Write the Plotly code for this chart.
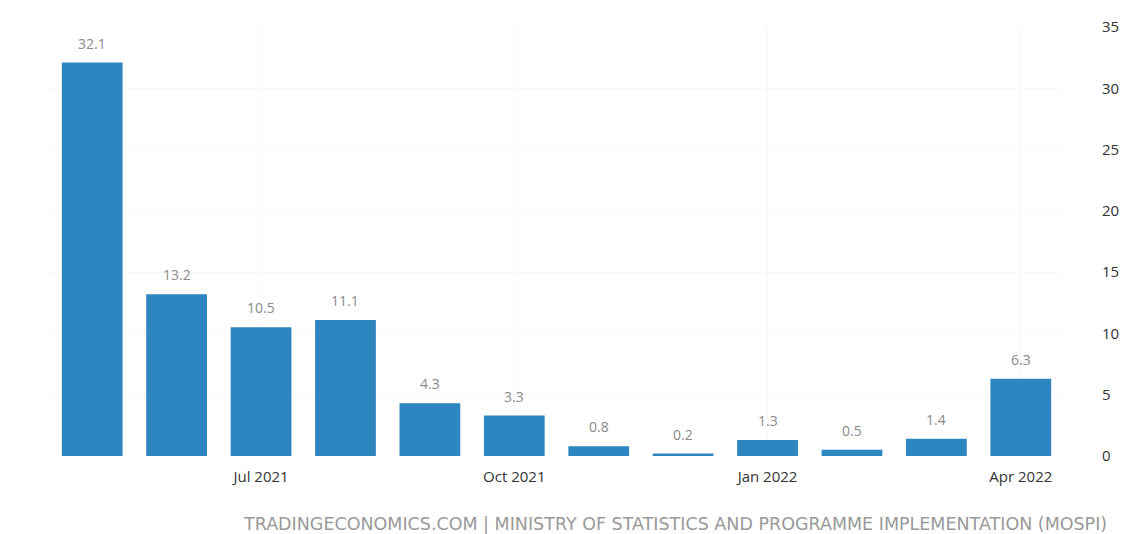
import plotly.graph_objects as go

months = ["May 2021", "Jun 2021", "Jul 2021", "Aug 2021", "Sep 2021", "Oct 2021",
          "Nov 2021", "Dec 2021", "Jan 2022", "Feb 2022", "Mar 2022", "Apr 2022"]
values = [32.1, 13.2, 10.5, 11.1, 4.3, 3.3, 0.8, 0.2, 1.3, 0.5, 1.4, 6.3]
tick_months = ["Jul 2021", "Oct 2021", "Jan 2022", "Apr 2022"]
y_ticks = [0, 5, 10, 15, 20, 25, 30, 35]
source = "TRADINGECONOMICS.COM | MINISTRY OF STATISTICS AND PROGRAMME IMPLEMENTATION (MOSPI)"

fig = go.Figure()
fig.add_trace(go.Bar(
    x=months, y=values,
    marker=dict(color="#2e86c1", line=dict(width=0)),
    width=0.72,
    hoverinfo="x+y",
))

value_labels = [dict(
    x=m, y=v, xref="x", yref="y", text=f"{v:.1f}", showarrow=False,
    yanchor="bottom", yshift=8,
    font=dict(size=14, color="#8a8a8a", family="Open Sans"),
) for m, v in zip(months, values)]

fig.update_layout(
    width=1126, height=534,
    margin=dict(l=50, r=63, t=27, b=78, autoexpand=False),
    paper_bgcolor="white", plot_bgcolor="white",
    showlegend=False,
    font=dict(family="Open Sans", color="#333333", size=14),
    xaxis=dict(
        type="category", tickmode="array", tickvals=tick_months, ticktext=tick_months,
        showgrid=True, gridcolor="#f7f7f7", showline=False, zeroline=False,
        ticks="", ticklabelstandoff=10, tickfont=dict(size=15, color="#333333"),
        automargin=False,
    ),
    yaxis=dict(
        side="right", range=[0, 35], tickmode="array", tickvals=y_ticks,
        showgrid=True, gridcolor="#f7f7f7", zeroline=False, showline=False,
        ticks="", ticklabelstandoff=38, tickfont=dict(size=15, color="#333333"),
        automargin=False,
    ),
    annotations=value_labels + [dict(
        text=source, xref="paper", yref="paper", x=1.045, y=-0.1585,
        xanchor="right", yanchor="middle", showarrow=False,
        font=dict(size=17.5, color="#999999", family="DejaVu Sans"),
    )],
)

fig.write_html("out.html")
